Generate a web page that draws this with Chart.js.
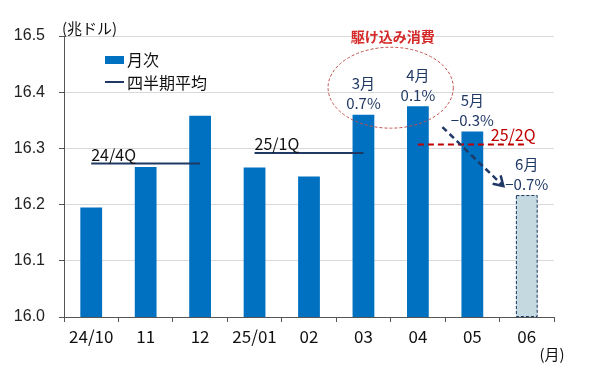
<!DOCTYPE html>
<html><head><meta charset="utf-8">
<script src="https://cdn.jsdelivr.net/npm/chart.js@4/dist/chart.umd.min.js"></script>
<style>html,body{margin:0;padding:0;background:#fff}canvas{display:block}</style>
</head><body>
<canvas id="c" width="600" height="375"></canvas>
<script>
// ---- data ----
const categories = ['24/10','11','12','25/01','02','03','04','05','06'];
const monthly = [16.195,16.267,16.358,16.266,16.250,16.360,16.375,16.330,16.217];
const avg4Q24 = [16.273,16.273,16.273,null,null,null,null,null,null];
const avg1Q25 = [null,null,null,16.292,16.292,16.292,null,null,null];
const avg2Q25 = [null,null,null,null,null,null,16.307,16.307,16.307];
const quarterLabels = ['24/4Q','25/1Q','25/2Q'];
const noteIndex = [5,6,7,8];
const noteMonth = ['3月','4月','5月','6月'];
const notePct = ['0.7%','0.1%','−0.3%','−0.7%'];
const arrowFrom = [6.45,16.338];
const arrowTo = [7.57,16.233];
const yMin = 16.0, yMax = 16.5, yStep = 0.1;

const JP = "'Noto Sans CJK JP', 'Noto Sans', sans-serif";
const NAVY = '#1f3864';
const RED = '#c00000';
const BLUE = '#0070c0';

const annot = {
  id: 'annot',
  afterDatasetsDraw(chart) {
    const ctx = chart.ctx, xs = chart.scales.x, ys = chart.scales.y, ca = chart.chartArea;
    ctx.save();
    // dashed border for the estimate bar
    const last = chart.getDatasetMeta(0).data[monthly.length - 1];
    const bTop = last.y, bBot = Math.min(last.base, ca.bottom);
    ctx.setLineDash([3, 2]);
    ctx.strokeStyle = NAVY; ctx.lineWidth = 1;
    ctx.strokeRect(last.x - last.width/2 + 0.5, bTop + 0.5, last.width - 1, bBot - bTop - 1);
    ctx.setLineDash([]);

    // quarter labels
    ctx.font = '16px ' + JP; ctx.textBaseline = 'alphabetic';
    ctx.fillStyle = '#111'; ctx.textAlign = 'left';
    ctx.fillText(quarterLabels[0], xs.getPixelForValue(0), ys.getPixelForValue(avg4Q24[0]) - 3);
    ctx.fillText(quarterLabels[1], xs.getPixelForValue(3), ys.getPixelForValue(avg1Q25[3]) - 3);
    ctx.fillStyle = RED; ctx.textAlign = 'center';
    ctx.fillText(quarterLabels[2], xs.getPixelForValue(7.75), ys.getPixelForValue(avg2Q25[6]) - 3);

    // month notes
    ctx.font = '15px ' + JP; ctx.fillStyle = NAVY; ctx.textAlign = 'center'; ctx.textBaseline = 'middle';
    noteIndex.forEach((idx, k) => {
      const x = xs.getPixelForValue(idx), top = ys.getPixelForValue(monthly[idx]);
      ctx.fillText(noteMonth[k], x, top - 31);
      ctx.fillText(notePct[k], x, top - 11);
    });

    // dashed arrow
    const ax1 = xs.getPixelForValue(arrowFrom[0]), ay1 = ys.getPixelForValue(arrowFrom[1]);
    const ax2 = xs.getPixelForValue(arrowTo[0]), ay2 = ys.getPixelForValue(arrowTo[1]);
    ctx.strokeStyle = NAVY; ctx.lineWidth = 2.5; ctx.setLineDash([6, 4]);
    ctx.beginPath(); ctx.moveTo(ax1, ay1); ctx.lineTo(ax2, ay2); ctx.stroke();
    ctx.setLineDash([]);
    const ang = Math.atan2(ay2 - ay1, ax2 - ax1), hl = 11;
    ctx.beginPath();
    ctx.moveTo(ax2 - hl*Math.cos(ang - 0.55), ay2 - hl*Math.sin(ang - 0.55));
    ctx.lineTo(ax2, ay2);
    ctx.lineTo(ax2 - hl*Math.cos(ang + 0.55), ay2 - hl*Math.sin(ang + 0.55));
    ctx.stroke();

    // ellipse around surge
    const cx = (xs.getPixelForValue(5) + xs.getPixelForValue(6)) / 2;
    const rx = (xs.getPixelForValue(6) - xs.getPixelForValue(5)) * 1.15;
    const cy = ys.getPixelForValue(16.408);
    const ry = ys.getPixelForValue(16.336) - cy;
    ctx.strokeStyle = '#c0504d'; ctx.lineWidth = 1; ctx.setLineDash([3, 2]);
    ctx.beginPath(); ctx.ellipse(cx, cy, rx, ry, 0, 0, Math.PI*2); ctx.stroke();
    ctx.setLineDash([]);
    ctx.font = 'bold 14px ' + JP; ctx.fillStyle = '#d42a2a'; ctx.textAlign = 'center'; ctx.textBaseline = 'middle';
    ctx.fillText('駆け込み消費', cx + 2, cy - ry - 11);

    // legend
    ctx.fillStyle = BLUE; ctx.fillRect(105, 56, 19, 8);
    ctx.font = '16px ' + JP; ctx.fillStyle = '#111'; ctx.textAlign = 'left'; ctx.textBaseline = 'middle';
    ctx.fillText('月次', 127, 60);
    ctx.strokeStyle = NAVY; ctx.lineWidth = 2;
    ctx.beginPath(); ctx.moveTo(105, 82); ctx.lineTo(124, 82); ctx.stroke();
    ctx.fillText('四半期平均', 127, 83);

    // units
    ctx.font = '15px ' + JP; ctx.fillStyle = '#111';
    ctx.fillText('(兆ドル)', 62, 28);
    ctx.textAlign = 'center';
    ctx.fillText('(月)', 552, 354);
    ctx.restore();
  }
};

new Chart(document.getElementById('c'), {
  type: 'bar',
  data: {
    labels: categories,
    datasets: [
      { type: 'bar', data: monthly, order: 2,
        backgroundColor: monthly.map((v, i) => i === monthly.length - 1 ? '#c5d9e1' : BLUE),
        borderWidth: 0, barPercentage: 0.4, categoryPercentage: 1.0 },
      { type: 'line', data: avg4Q24, order: 0, borderColor: NAVY, borderWidth: 2, pointRadius: 0, spanGaps: false },
      { type: 'line', data: avg1Q25, order: 0, borderColor: NAVY, borderWidth: 2, pointRadius: 0, spanGaps: false },
      { type: 'line', data: avg2Q25, order: 0, borderColor: RED, borderWidth: 2, borderDash: [6, 4], pointRadius: 0, spanGaps: false }
    ]
  },
  options: {
    responsive: false, animation: false, devicePixelRatio: 1,
    layout: { padding: { top: 36, right: 46, bottom: 0, left: 0 } },
    plugins: { legend: { display: false }, tooltip: { enabled: false } },
    scales: {
      x: {
        afterFit: s => { s.height = 58; },
        grid: { offset: true, drawOnChartArea: false, drawTicks: true, tickLength: 5, color: '#555', tickColor: '#555' },
        border: { display: true, color: '#555', width: 1 },
        ticks: { font: { family: JP, size: 17 }, color: '#111', padding: 4, maxRotation: 0, autoSkip: false }
      },
      y: {
        min: yMin, max: yMax,
        afterFit: s => { s.width = 64; },
        grid: { color: '#d9d9d9', tickColor: '#555', tickLength: 5 },
        border: { display: true, color: '#555', width: 1 },
        ticks: { stepSize: yStep, callback: v => Number(v).toFixed(1), font: { family: "'Liberation Sans', Arial, sans-serif", size: 16 }, color: '#222', padding: 14 }
      }
    }
  },
  plugins: [annot]
});
</script>
</body></html>
